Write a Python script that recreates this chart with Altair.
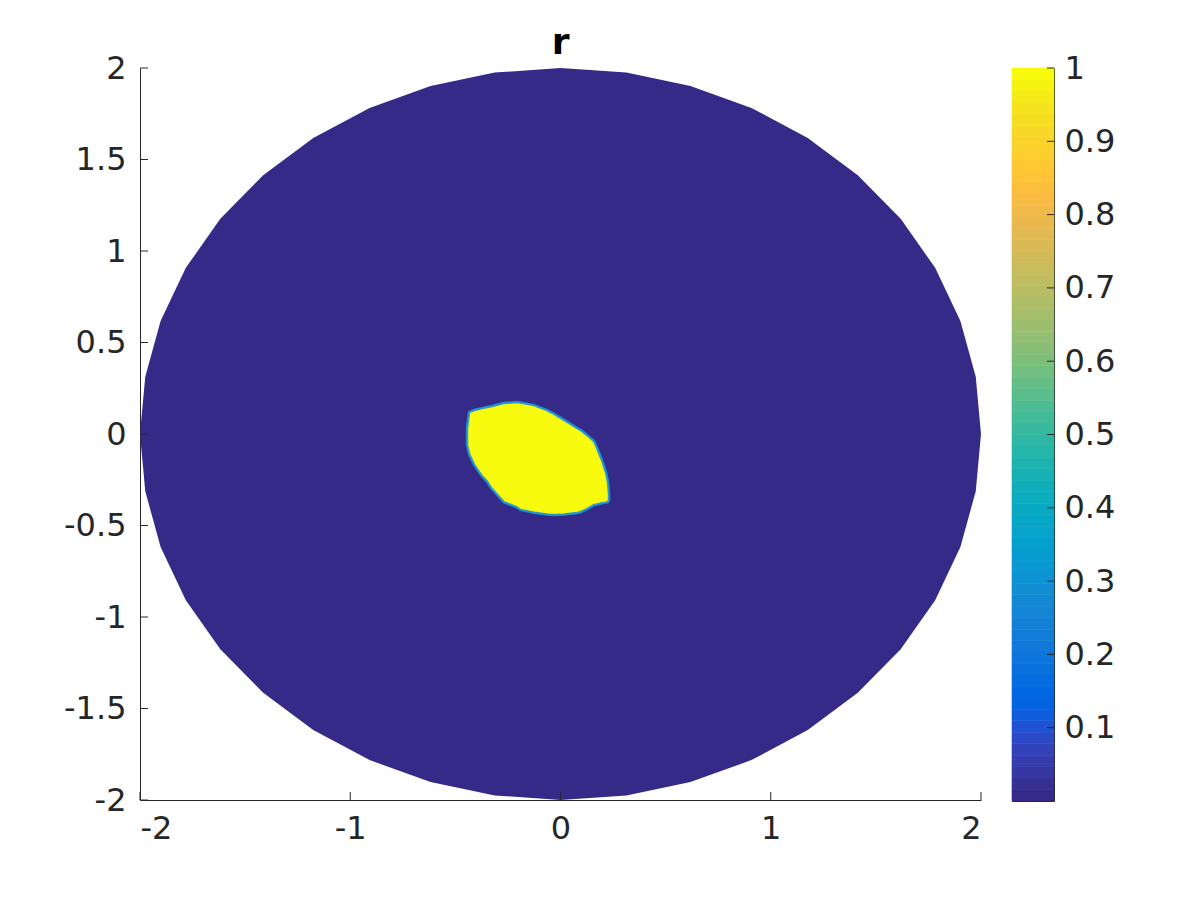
import altair as alt
import pandas as pd
import numpy as np

# ---- data ----
# polygonal disk boundary (upper and lower edge at each vertex x)
disk_x = [-2.0, -1.975, -1.902, -1.782, -1.618, -1.414, -1.176, -0.908, -0.618, -0.313, 0.0,
          0.313, 0.618, 0.908, 1.176, 1.414, 1.618, 1.782, 1.902, 1.975, 2.0]
disk_top = [0.0, 0.313, 0.618, 0.908, 1.176, 1.414, 1.618, 1.782, 1.902, 1.975, 2.0,
            1.975, 1.902, 1.782, 1.618, 1.414, 1.176, 0.908, 0.618, 0.313, 0.0]
disk_bottom = [0.0, -0.313, -0.618, -0.908, -1.176, -1.414, -1.618, -1.782, -1.902, -1.975, -2.0,
               -1.975, -1.902, -1.782, -1.618, -1.414, -1.176, -0.908, -0.618, -0.313, 0.0]

# r = 1 region (yellow blob)
blob_x = [-0.445, -0.435, -0.41, -0.378, -0.35, -0.33, -0.27, -0.21, -0.19, -0.126, -0.064,
          -0.03, 0.017, 0.079, 0.098, 0.126, 0.16, 0.174, 0.197, 0.216, 0.226, 0.231]
blob_top = [0.03, 0.12, 0.131, 0.14, 0.148, 0.152, 0.169, 0.175, 0.172, 0.158, 0.131,
            0.11, 0.077, 0.033, 0.02, -0.005, -0.04, -0.077, -0.142, -0.208, -0.262, -0.333]
blob_bottom = [-0.06, -0.11, -0.17, -0.224, -0.26, -0.295, -0.372, -0.40, -0.415, -0.43, -0.44,
               -0.443, -0.44, -0.432, -0.426, -0.41, -0.388, -0.385, -0.378, -0.375, -0.372, -0.36]

x_ticks = [-2, -1, 0, 1, 2]
y_ticks = [-2, -1.5, -1, -0.5, 0, 0.5, 1, 1.5, 2]
cbar_ticks = [0.1, 0.2, 0.3, 0.4, 0.5, 0.6, 0.7, 0.8, 0.9, 1]
cbar_range = [0.0, 1.0]

# parula colormap (64 entries)
parula = [
    (0.2081, 0.1663, 0.5292), (0.2116, 0.1898, 0.5777), (0.2123, 0.2138, 0.6270), (0.2081, 0.2386, 0.6771),
    (0.1959, 0.2645, 0.7279), (0.1707, 0.2919, 0.7792), (0.1253, 0.3242, 0.8303), (0.0591, 0.3598, 0.8683),
    (0.0117, 0.3875, 0.8820), (0.0060, 0.4086, 0.8828), (0.0165, 0.4266, 0.8786), (0.0329, 0.4430, 0.8720),
    (0.0498, 0.4586, 0.8641), (0.0629, 0.4737, 0.8554), (0.0723, 0.4887, 0.8467), (0.0779, 0.5040, 0.8384),
    (0.0793, 0.5200, 0.8312), (0.0749, 0.5375, 0.8263), (0.0641, 0.5570, 0.8240), (0.0488, 0.5772, 0.8228),
    (0.0343, 0.5966, 0.8199), (0.0265, 0.6137, 0.8135), (0.0239, 0.6287, 0.8038), (0.0231, 0.6418, 0.7913),
    (0.0228, 0.6535, 0.7768), (0.0267, 0.6642, 0.7607), (0.0384, 0.6743, 0.7436), (0.0590, 0.6838, 0.7254),
    (0.0843, 0.6928, 0.7062), (0.1133, 0.7015, 0.6859), (0.1453, 0.7098, 0.6646), (0.1801, 0.7177, 0.6424),
    (0.2178, 0.7250, 0.6193), (0.2586, 0.7317, 0.5954), (0.3022, 0.7376, 0.5712), (0.3482, 0.7424, 0.5473),
    (0.3953, 0.7459, 0.5244), (0.4420, 0.7481, 0.5033), (0.4871, 0.7491, 0.4840), (0.5300, 0.7491, 0.4661),
    (0.5709, 0.7485, 0.4494), (0.6099, 0.7473, 0.4337), (0.6473, 0.7456, 0.4188), (0.6834, 0.7435, 0.4044),
    (0.7184, 0.7411, 0.3905), (0.7525, 0.7384, 0.3768), (0.7858, 0.7356, 0.3633), (0.8185, 0.7327, 0.3498),
    (0.8507, 0.7299, 0.3360), (0.8824, 0.7274, 0.3217), (0.9139, 0.7258, 0.3063), (0.9450, 0.7261, 0.2886),
    (0.9739, 0.7314, 0.2666), (0.9938, 0.7455, 0.2403), (0.9990, 0.7653, 0.2164), (0.9955, 0.7861, 0.1967),
    (0.9880, 0.8066, 0.1794), (0.9789, 0.8271, 0.1633), (0.9697, 0.8481, 0.1475), (0.9626, 0.8705, 0.1309),
    (0.9589, 0.8949, 0.1132), (0.9598, 0.9218, 0.0948), (0.9661, 0.9514, 0.0755), (0.9763, 0.9831, 0.0538),
]
hexes = ["#%02x%02x%02x" % tuple(int(round(c * 255)) for c in rgb) for rgb in parula]

AX = "#262626"
FONT = "DejaVu Sans"
FS = 32

disk_df = pd.DataFrame({"x": disk_x, "top": disk_top, "bottom": disk_bottom})
blob_df = pd.DataFrame({"x": blob_x, "top": blob_top, "bottom": blob_bottom})

xs = alt.Scale(domain=[-2, 2], nice=False, zero=False)
ys = alt.Scale(domain=[-2, 2], nice=False, zero=False)

xaxis = alt.Axis(values=x_ticks, labelExpr="datum.value + ''", ticks=False, grid=False,
                 title="", labelPadding=13, domainColor=AX, labelColor=AX,
                 labelFont=FONT, labelFontSize=FS)
yaxis = alt.Axis(values=y_ticks, labelExpr="datum.value + ''", ticks=False, grid=False,
                 title="", labelPadding=14, domainColor=AX, labelColor=AX,
                 labelFont=FONT, labelFontSize=FS)

disk = alt.Chart(disk_df).mark_area(color=hexes[0], orient="vertical", interpolate="linear").encode(
    x=alt.X("x:Q", scale=xs, axis=xaxis),
    y=alt.Y("top:Q", scale=ys, axis=yaxis),
    y2="bottom:Q",
)

blob = alt.Chart(blob_df).mark_area(
    color=hexes[-1], orient="vertical", interpolate="linear",
    stroke="#1a95dc", strokeWidth=2.5, strokeOpacity=0.9,
).encode(
    x=alt.X("x:Q", scale=xs, axis=xaxis),
    y=alt.Y("top:Q", scale=ys, axis=yaxis),
    y2="bottom:Q",
)

xt = alt.Chart(pd.DataFrame({"v": x_ticks})).mark_tick(
    orient="vertical", size=8, thickness=1, color=AX, yOffset=-4, opacity=1
).encode(
    x=alt.X("v:Q", scale=xs, axis=xaxis),
    y=alt.YDatum(-2, scale=ys, axis=yaxis),
)
yt = alt.Chart(pd.DataFrame({"v": y_ticks})).mark_tick(
    orient="horizontal", size=8, thickness=1, color=AX, xOffset=4, opacity=1
).encode(
    x=alt.XDatum(-2, scale=xs, axis=xaxis),
    y=alt.Y("v:Q", scale=ys, axis=yaxis),
)

main = alt.layer(disk, blob, xt, yt).properties(
    width=841, height=732,
    title=alt.TitleParams("r", fontSize=36, fontWeight="bold", color="black", font=FONT,
                          anchor="middle", offset=-10),
)

# colorbar
edges = np.linspace(cbar_range[0], cbar_range[1], len(hexes) + 1)
cb_df = pd.DataFrame({"lo": edges[:-1], "hi": edges[1:], "c": hexes})
cys = alt.Scale(domain=cbar_range, nice=False, zero=False)
cxs = alt.Scale(domain=[0, 1], nice=False, zero=False)
cyaxis = alt.Axis(orient="right", values=cbar_ticks, labelExpr="datum.value + ''", ticks=False,
                  grid=False, domain=False, title="", labelPadding=10, labelColor=AX,
                  labelFont=FONT, labelFontSize=FS)

bands = alt.Chart(cb_df).mark_rect(strokeWidth=0.6).encode(
    x=alt.XDatum(0, scale=cxs, axis=None),
    x2=alt.X2Datum(1),
    y=alt.Y("lo:Q", scale=cys, axis=cyaxis),
    y2="hi:Q",
    color=alt.Color("c:N", scale=None),
    stroke=alt.Stroke("c:N", scale=None),
)
cticks = alt.Chart(pd.DataFrame({"v": cbar_ticks})).mark_tick(
    orient="horizontal", size=7, thickness=1, color=AX, xOffset=-3.5, opacity=1
).encode(
    x=alt.XDatum(1, scale=cxs, axis=None),
    y=alt.Y("v:Q", scale=cys, axis=cyaxis),
)
cbar = alt.layer(bands, cticks).properties(
    width=42, height=733,
    view=alt.ViewBackground(stroke=AX, strokeWidth=1),
)

chart = alt.hconcat(main, cbar, spacing=31, bounds="flush").properties(
    padding={"left": 55, "top": 16, "right": 5, "bottom": 5},
    background="white",
).configure_view(stroke="transparent")

chart.save("out.html", embed_options={"renderer": "svg", "actions": False})
